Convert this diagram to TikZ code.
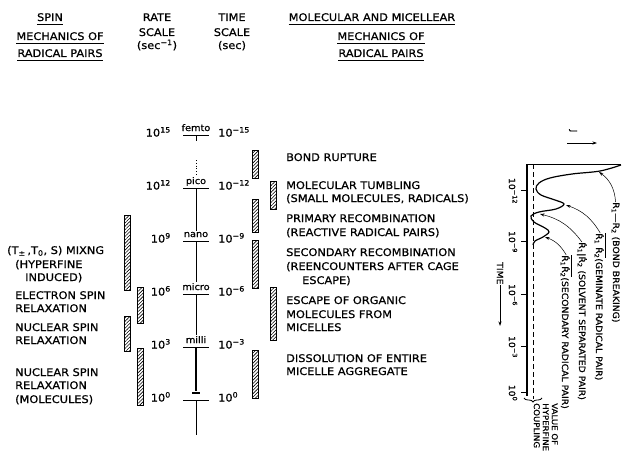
\documentclass[tikz,border=0pt]{standalone}
\usepackage{fontspec}
\setmainfont{DejaVu Sans}[FakeStretch=1.08,FakeBold=0.8]
\usetikzlibrary{patterns.meta,arrows.meta,decorations.pathreplacing}
\newcommand\tn[1]{10\textsuperscript{#1}}
\newcommand\ovl[1]{$\overline{\hbox{#1}}$}
\begin{document}
\begin{tikzpicture}[x=1pt,y=-1pt,
  tx/.style={font=\fontsize{10.5}{12}\selectfont, inner sep=0pt},
  pre/.style={font=\fontsize{9}{10}\selectfont, inner sep=1pt},
  pl/.style={font=\fontsize{8.6}{10}\selectfont, inner sep=0pt},
  vl/.style={font=\fontsize{8}{9}\selectfont, inner sep=0pt},
  bar/.style={draw, line width=0.7pt, pattern={Lines[angle=45,distance=2.4pt,line width=0.6pt]}},
  arr/.style={-{Stealth[length=4.5pt,width=3pt]}, line width=0.5pt},
  ul/.style={line width=0.8pt},
  sline/.style={line width=0.8pt}]
\useasboundingbox (0,0) rectangle (624,460);
% ---------- headers
\node[tx,anchor=base] (hs1) at (50,21) {SPIN};
\node[tx,anchor=base] (hs2) at (60,40) {MECHANICS OF};
\node[tx,anchor=base] (hs3) at (60,57) {RADICAL PAIRS};
\foreach \n in {hs1,hs2,hs3}{\draw[ul] ([yshift=-3.5pt]\n.base west) -- ([yshift=-3.5pt]\n.base east);}
\node[tx,anchor=base] (hr1) at (157,21) {RATE};
\node[tx,anchor=base] (hr2) at (157,36) {SCALE};
\node[tx,anchor=base] (hr3) at (157,49) {(sec\textsuperscript{−1})};
\node[tx,anchor=base] (ht1) at (232,21) {TIME};
\node[tx,anchor=base] (ht2) at (232,36) {SCALE};
\node[tx,anchor=base] (ht3) at (232,49) {(sec)};
\node[tx,anchor=base] (hm1) at (372,21) {MOLECULAR AND MICELLEAR};
\node[tx,anchor=base] (hm2) at (381,40) {MECHANICS OF};
\node[tx,anchor=base] (hm3) at (381,57) {RADICAL PAIRS};
\foreach \n in {hm1,hm2,hm3}{\draw[ul] ([yshift=-3.5pt]\n.base west) -- ([yshift=-3.5pt]\n.base east);}
% ---------- central scale
\foreach \nm/\lab/\e/\t in {f/femto/15/135, p/pico/12/188, n/nano/9/241, u/micro/6/294, m/milli/3/347}{
  \node[pre,anchor=base] (l\nm) at (196,\t-4) {\lab};
  \coordinate (t\nm) at (196,\t);
  \draw[sline] (183,\t) -- (209,\t);
  \node[tx,anchor=base east] (a\nm) at (171,\t+1.5) {\tn{\e}};
  \node[tx,anchor=base west] (b\nm) at (218,\t+1.5) {\tn{−\e}};
}
\node[inner sep=1pt] (l0) at (196,393) {\rule{8pt}{1.3pt}};
\coordinate (t0) at (196,400);
\draw[sline] (183,400) -- (209,400);
\node[tx,anchor=base east] (a0) at (171,401.5) {\tn{0}};
\node[tx,anchor=base west] (b0) at (218,401.5) {\tn{0}};
\coordinate (fend) at (196,141);
\coordinate (d1) at (196,160);
\coordinate (d2) at (196,176);
\coordinate (send) at (196,435);
\draw[sline] (tf) -- (fend);
\draw[sline, dotted] (d1) -- (d2);
\draw[sline] (tp) -- (ln.north);
\draw[sline] (tn) -- (lu.north);
\draw[sline] (tu) -- (lm.north);
\draw[line width=1.1pt] (tm) -- (l0.north);
\draw[sline] (t0) -- (send);
% ---------- left bars
\draw[bar] (124,215) rectangle (130,290);
\draw[bar] (137,287) rectangle (143,323);
\draw[bar] (124,316) rectangle (130,351);
\draw[bar] (137,348) rectangle (143,405);
% ---------- right bars
\draw[bar] (252,150) rectangle (258,178);
\draw[bar] (252,199) rectangle (258,232);
\draw[bar] (252,240) rectangle (258,288);
\draw[bar] (252,350) rectangle (258,398);
\draw[bar] (270,181) rectangle (276,209);
\draw[bar] (270,287) rectangle (276,340);
% ---------- left texts
\node[tx,anchor=base west] (s1) at (7,254) {(T\textsubscript{±}\,,T\textsubscript{0}, S) MIXNG};
\node[tx,anchor=base west] (s2) at (15,268) {(HYPERFINE};
\node[tx,anchor=base west] (s3) at (25,281) {INDUCED)};
\node[tx,anchor=base west] (s4) at (15,299) {ELECTRON SPIN};
\node[tx,anchor=base west] (s5) at (15,312) {RELAXATION};
\node[tx,anchor=base west] (s6) at (15,331) {NUCLEAR SPIN};
\node[tx,anchor=base west] (s7) at (15,344) {RELAXATION};
\node[tx,anchor=base west] (s8) at (15,376) {NUCLEAR SPIN};
\node[tx,anchor=base west] (s9) at (15,389) {RELAXATION};
\node[tx,anchor=base west] (s10) at (15,403) {(MOLECULES)};
% ---------- right texts
\node[tx,anchor=base west] (m1) at (286,161) {BOND RUPTURE};
\node[tx,anchor=base west] (m2) at (286,189) {MOLECULAR TUMBLING};
\node[tx,anchor=base west] (m3) at (286,202) {(SMALL MOLECULES, RADICALS)};
\node[tx,anchor=base west] (m4) at (286,222) {PRIMARY RECOMBINATION};
\node[tx,anchor=base west] (m5) at (286,236) {(REACTIVE RADICAL PAIRS)};
\node[tx,anchor=base west] (m6) at (286,256) {SECONDARY RECOMBINATION};
\node[tx,anchor=base west] (m7) at (286,270) {(REENCOUNTERS AFTER CAGE};
\node[tx,anchor=base west] (m8) at (302,284) {ESCAPE)};
\node[tx,anchor=base west] (m9) at (286,304) {ESCAPE OF ORGANIC};
\node[tx,anchor=base west] (m10) at (286,318) {MOLECULES FROM};
\node[tx,anchor=base west] (m11) at (286,331) {MICELLES};
\node[tx,anchor=base west] (m12) at (286,362) {DISSOLUTION OF ENTIRE};
\node[tx,anchor=base west] (m13) at (286,375) {MICELLE AGGREGATE};
% ---------- right plot
\coordinate (ax1) at (527,164);
\coordinate (ax2) at (527,396);
\coordinate (tr) at (621,164);
\coordinate (dl1) at (533,164);
\coordinate (dl2) at (533,399);
\draw[line width=1.1pt] (ax1) -- (ax2);
\draw[line width=0.8pt] (ax1) -- (tr);
\draw[line width=0.7pt, dash pattern=on 5pt off 3pt] (dl1) -- (dl2);
\foreach \nm/\y/\e in {q1/190/−12, q2/241/−9, q3/294/−6, q4/346/−3, q5/392/0}{
  \draw[line width=0.8pt] (521,\y) -- (527,\y);
  \node[pl,rotate=-90] (\nm) at (513,\y+1) {\tn{\e}};
}
\draw[line width=1.2pt] plot[smooth, tension=0.6] coordinates {(621,165) (600,171) (572,174) (550,178) (539,183) (536,189) (541,195) (555,200) (564,204) (556,209) (539,212) (531,216) (534,222) (545,228) (549,232) (543,237) (535,241) (533,245)};
\coordinate (c1) at (599,172);
\coordinate (c2) at (566,205);
\coordinate (c3) at (540,214);
\coordinate (c4) at (545,237);
\node[pl,rotate=-90,anchor=base west] (lb1) at (613,202) {R\textsubscript{1}—R\textsubscript{2} (BOND BREAKING)};
\node[pl,rotate=-90,anchor=base west] (lb2) at (596,233) {\ovl{Ṙ\textsubscript{1} Ṙ\textsubscript{2}}(GEMINATE RADICAL PAIR)};
\node[pl,rotate=-90,anchor=base west] (lb3) at (579,242) {Ṙ\textsubscript{1}|Ṙ\textsubscript{2} (SOLVENT SEPARATED PAIR)};
\node[pl,rotate=-90,anchor=base west] (lb4) at (562,255) {\ovl{Ṙ\textsubscript{1}Ṙ\textsubscript{2}}(SECONDARY RADICAL PAIR)};
\draw[arr] (lb1.west) to[bend right=25] (c1);
\draw[arr] (lb2.west) to[bend right=20] (c2);
\draw[arr] (lb3.west) to[bend right=20] (c3);
\draw[arr] (lb4.west) to[bend right=20] (c4);
% J and TIME
\node[pl,rotate=-90] (J) at (573,131) {J};
\coordinate (ja) at (567,143);
\coordinate (jb) at (597,143);
\draw[arr,line width=0.8pt] (ja) -- (jb);
\node[pl,rotate=-90,anchor=west] (time) at (500,262) {TIME};
\coordinate (timeend) at (500,326);
\draw[arr,line width=0.8pt] (time.east) -- (timeend);
% hyperfine brace
\coordinate (br1) at (524,398);
\coordinate (br2) at (542,398);
\draw[line width=0.8pt, decorate, decoration={brace, amplitude=4pt, mirror}] (br1) -- (br2);
\node[vl,rotate=-90,anchor=north west,align=left] (val) at (558,403) {VALUE OF\\HYPERFINE\\COUPLING};
\end{tikzpicture}
\end{document}
